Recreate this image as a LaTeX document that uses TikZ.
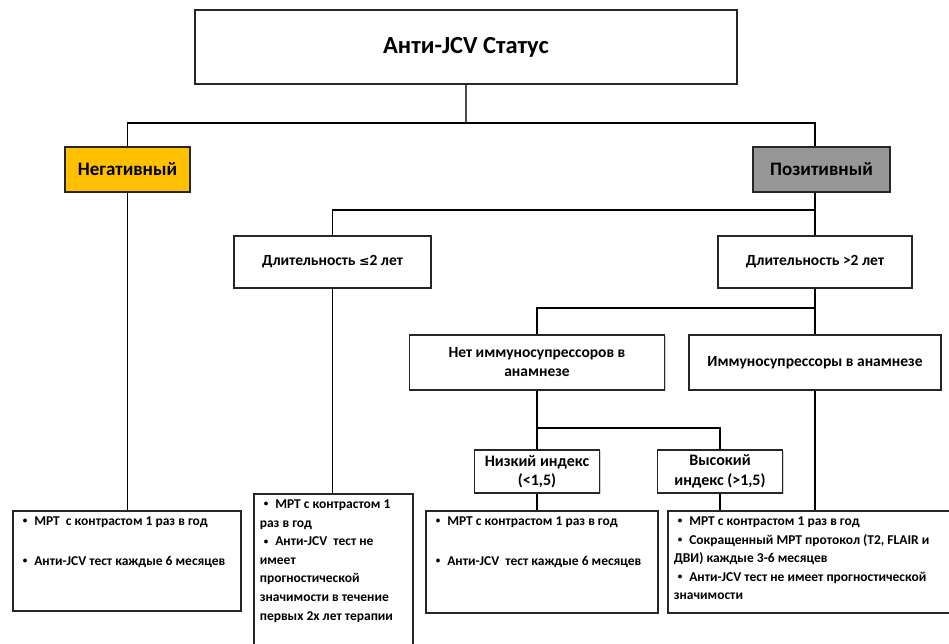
\documentclass[tikz,border=0pt]{standalone}
\usepackage{fontspec}
\setmainfont{Carlito}
\newfontfamily\symfont{DejaVu Sans}
\usetikzlibrary{shadows}
\definecolor{negfill}{HTML}{FFC000}
\definecolor{posfill}{HTML}{969696}
\newcommand{\bul}{\hspace*{4pt}\raisebox{1.6pt}{\fontsize{9}{9}\selectfont •}\hspace{7pt}}
\begin{document}
\begin{tikzpicture}[x=1pt,y=-1pt,
  bx/.style={draw=black!85, line width=1.6pt, fill=white, inner sep=0pt, align=center,
    font=\bfseries, drop shadow={shadow xshift=1.2pt, shadow yshift=-1.2pt, opacity=0.35}},
  conn/.style={draw=black, line width=1.8pt},
  midtxt/.style={font=\fontsize{15.5}{19}\selectfont\bfseries},
  idxtxt/.style={font=\fontsize{16}{19.5}\selectfont\bfseries},
  bottxt/.style={font=\fontsize{13.5}{18.6}\selectfont\bfseries}]
\clip (0,0) rectangle (949,644);
\fill[white] (0,0) rectangle (949,644);
% header
\node[bx, minimum width=542pt, minimum height=74pt, font=\fontsize{24.5}{28}\selectfont\bfseries] (top) at (466,47) {Анти-JCV Статус};
\node[bx, fill=negfill, minimum width=125pt, minimum height=45pt, font=\fontsize{19}{22}\selectfont\bfseries] (neg) at (127.5,169.5) {Негативный};
\node[bx, fill=posfill, minimum width=137pt, minimum height=45pt, font=\fontsize{19}{22}\selectfont\bfseries] (pos) at (821.5,169.5) {Позитивный};
% second level
\node[bx, midtxt, minimum width=197pt, minimum height=52pt] (d1) at (332.5,262) {Длительность {\symfont\fontsize{12.5}{15}\selectfont ≤}2 лет};
\node[bx, midtxt, minimum width=194pt, minimum height=52pt] (d2) at (815,262) {Длительность >2 лет};
% third level
\node[bx, midtxt, minimum width=255pt, minimum height=55pt] (no) at (537,362.5) {Нет иммуносупрессоров в\\анамнезе};
\node[bx, midtxt, minimum width=252pt, minimum height=55pt] (imm) at (815,362.5) {Иммуносупрессоры в анамнезе};
% index
\node[bx, idxtxt, minimum width=125pt, minimum height=43pt] (low) at (537,471.5) {Низкий индекс\\(<1,5)};
\node[bx, idxtxt, minimum width=125pt, minimum height=43pt] (high) at (720,471.5) {Высокий\\индекс (>1,5)};
% bottom boxes
\node[bx, bottxt, anchor=north west, inner sep=6pt] (b1) at (12,510)
 {\parbox[t][88pt][t]{216pt}{\raggedright\setlength{\baselineskip}{20pt}
  \bul МРТ\ \ с контрастом 1 раз в год\\
  \mbox{}\\
  \bul Анти-JCV тест каждые 6 месяцев}};
\node[bx, bottxt, anchor=north west, inner sep=6pt] (b2) at (253,493)
 {\parbox[t][160pt][t]{147pt}{\raggedright
  \bul МРТ с контрастом 1\\
  раз в год\\
  \bul Анти-JCV\ \ тест не\\
  имеет\\
  прогностической\\
  значимости в течение\\
  первых 2х лет терапии}};
\node[bx, bottxt, anchor=north west, inner sep=6pt] (b3) at (425,510)
 {\parbox[t][90pt][t]{220pt}{\raggedright\setlength{\baselineskip}{20pt}
  \bul МРТ с контрастом 1 раз в год\\
  \mbox{}\\
  \bul Анти-JCV\ \ тест каждые 6 месяцев}};
\node[bx, bottxt, anchor=north west, inner sep=6pt] (b4) at (667,510)
 {\parbox[t][90pt][t]{300pt}{\raggedright
  \bul МРТ с контрастом 1 раз в год\\
  \bul Сокращенный МРТ протокол (T2, FLAIR и\\
  ДВИ) каждые 3-6 месяцев\\
  \bul Анти-JCV тест не имеет прогностической\\
  значимости}};
% junctions
\coordinate (j1) at (466,123);
\coordinate (j2) at (815,210);
\coordinate (j3) at (815,308);
\coordinate (j4) at (537,428);
% connectors
\draw[conn, draw=black!70] (top.south) -- (j1);
\draw[conn] (neg.north) |- (j1) -| ([xshift=-6.5pt]pos.north);
\draw[conn] ([xshift=-6.5pt]pos.south) -- (d2.north);
\draw[conn] (d1.north) |- (j2);
\draw[conn] (neg.south) -- (neg.south |- b1.north);
\draw[conn] (d1.south) -- (d1.south |- b2.north);
\draw[conn] (d2.south) -- (imm.north);
\draw[conn] (no.north) |- (j3);
\draw[conn] (no.south) -- (low.north);
\draw[conn] (j4) -| (high.north);
\draw[conn] (low.south) -- (low.south |- b3.north);
\draw[conn] (high.south) -- (high.south |- b4.north);
\draw[conn] (imm.south) -- (imm.south |- b4.north);
\end{tikzpicture}
\end{document}
